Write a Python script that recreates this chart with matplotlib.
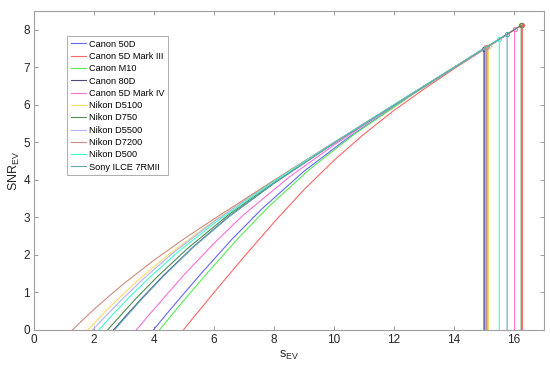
import matplotlib
matplotlib.use('Agg')
import matplotlib.pyplot as plt

plt.rcParams['font.family'] = ['Liberation Sans', 'DejaVu Sans']
plt.rcParams['mathtext.fontset'] = 'custom'
plt.rcParams['mathtext.rm'] = 'Liberation Sans'
plt.rcParams['mathtext.it'] = 'Liberation Sans'

# camera names in legend order
cameras = ['Canon 50D', 'Canon 5D Mark III', 'Canon M10', 'Canon 80D',
           'Canon 5D Mark IV', 'Nikon D5100', 'Nikon D750', 'Nikon D5500',
           'Nikon D7200', 'Nikon D500', 'Sony ILCE 7RMII']

# s_EV / SNR_EV points (last point = end of curve)
s_50d = [3.98, 4.4, 4.9, 5.6, 6.6, 7.6, 9.0, 10.5, 12.5, 15.03]
snr_50d = [0, 0.41, 0.88, 1.53, 2.42, 3.23, 4.23, 5.14, 6.22, 7.51]
s_5d3 = [4.98, 5.25, 5.5, 6.0, 7.0, 8.0, 9.0, 10.0, 11.0, 12.0, 13.0, 14.0, 16.28]
snr_5d3 = [0, 0.27, 0.51, 1.0, 1.95, 2.87, 3.74, 4.52, 5.22, 5.85, 6.42, 6.96, 8.13]
s_m10 = [4.18, 4.6, 5.1, 5.8, 6.8, 7.8, 9.2, 10.7, 12.7, 15.11]
snr_m10 = [0, 0.41, 0.89, 1.54, 2.44, 3.27, 4.29, 5.23, 6.32, 7.55]
s_80d = [2.65, 3.1, 3.6, 4.3, 5.3, 6.5, 8.0, 10.0, 12.0, 15.0]
snr_80d = [0, 0.41, 0.85, 1.44, 2.21, 3.03, 3.91, 4.98, 5.99, 7.5]
s_5d4 = [3.41, 3.8, 4.3, 5.0, 6.0, 7.0, 8.5, 10.0, 12.0, 16.02]
snr_5d4 = [0, 0.37, 0.83, 1.47, 2.31, 3.08, 4.07, 4.93, 5.98, 8.01]
s_d5100 = [1.79, 2.25, 2.75, 3.5, 4.5, 6.0, 8.0, 10.0, 12.0, 15.15]
snr_d5100 = [0, 0.39, 0.79, 1.35, 2.02, 2.91, 3.98, 4.99, 6.0, 7.57]
s_d750 = [2.45, 2.9, 3.4, 4.1, 5.1, 6.5, 8.0, 10.0, 12.0, 16.24]
snr_d750 = [0, 0.40, 0.84, 1.41, 2.16, 3.08, 3.93, 4.98, 5.99, 8.12]
s_d5500 = [1.95, 2.4, 2.9, 3.6, 4.6, 6.0, 8.0, 10.0, 12.0, 15.05]
snr_d5500 = [0, 0.38, 0.79, 1.33, 2.03, 2.89, 3.97, 4.99, 6.0, 7.52]
s_d7200 = [1.28, 1.5, 2.0, 2.5, 3.0, 4.0, 5.0, 6.0, 8.0, 10.0, 12.0, 15.08]
snr_d7200 = [0, 0.17, 0.55, 0.90, 1.24, 1.86, 2.43, 2.96, 3.99, 5.0, 6.0, 7.54]
s_d500 = [2.16, 2.6, 3.1, 3.8, 4.8, 6.0, 8.0, 10.0, 12.0, 15.51]
snr_d500 = [0, 0.39, 0.81, 1.36, 2.08, 2.84, 3.96, 4.99, 6.0, 7.75]
s_sony = [2.68, 3.1, 3.6, 4.3, 5.3, 6.5, 8.0, 10.0, 12.0, 15.77]
snr_sony = [0, 0.38, 0.83, 1.42, 2.20, 3.02, 3.91, 4.98, 5.99, 7.88]

curves = [(s_50d, snr_50d), (s_5d3, snr_5d3), (s_m10, snr_m10), (s_80d, snr_80d),
          (s_5d4, snr_5d4), (s_d5100, snr_d5100), (s_d750, snr_d750),
          (s_d5500, snr_d5500), (s_d7200, snr_d7200), (s_d500, snr_d500),
          (s_sony, snr_sony)]

colors = ['#6666ff', '#ff6666', '#55ee55', '#4a4a80', '#ff70d8', '#ffd966',
          '#4f8f4f', '#b0b0ff', '#cc8c80', '#40ffcc', '#5fa8b8']

fig = plt.figure(figsize=(5.5, 3.68), dpi=100)
ax = fig.add_axes([34 / 550, 38 / 368, 510 / 550, 319 / 368])

for (s, snr), c, name in zip(curves, colors, cameras):
    # curve, then straight drop to zero at the end point
    ax.plot(s + [s[-1]], snr + [0], color=c, lw=0.8, label=name)
    ax.plot(s[-1], snr[-1], 'o', color=c, ms=3, mfc='none', mew=0.8)

ax.set_xlim(0, 17)
ax.set_ylim(0, 8.5)
ax.set_xticks(range(0, 17, 2))
ax.set_yticks(range(0, 9))
ax.tick_params(direction='in', top=True, right=True, length=3, width=0.6,
               colors='#8c8c8c', labelcolor='#262626', labelsize=8.5, pad=3)
for sp in ax.spines.values():
    sp.set_color('#a0a0a0')
    sp.set_linewidth(0.8)

ax.set_xlabel(r'$\mathrm{s}_{\mathrm{EV}}$', fontsize=9, color='#262626', labelpad=2)
ax.set_ylabel(r'$\mathrm{SNR}_{\mathrm{EV}}$', fontsize=9, color='#262626', labelpad=1)

leg = ax.legend(loc='upper left', bbox_to_anchor=(0.0647, 0.9216), fontsize=6.6,
                handlelength=1.7, handletextpad=0.3, labelspacing=0.36,
                borderpad=0.4, borderaxespad=0, fancybox=False, framealpha=1)
leg.get_frame().set_edgecolor('#a0a0a0')
leg.get_frame().set_linewidth(0.6)

fig.savefig('out.png', dpi=100)
